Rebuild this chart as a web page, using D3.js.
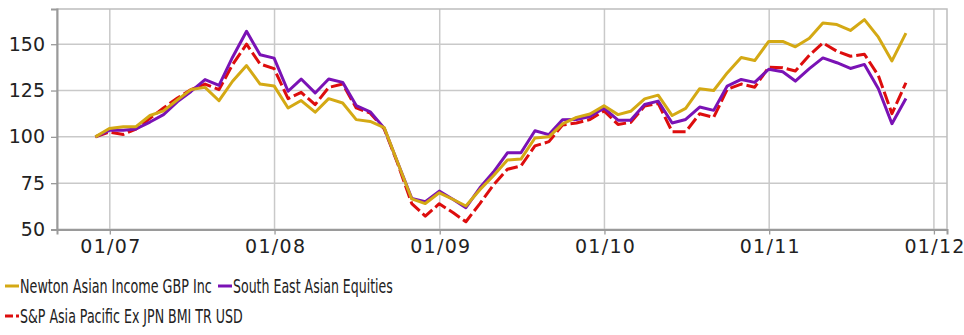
<!DOCTYPE html>
<html>
<head>
<meta charset="utf-8">
<script src="https://cdn.jsdelivr.net/npm/d3@7"></script>
<style>
  body { margin: 0; background: #fff; }
  svg { display: block; font-family: "DejaVu Sans", sans-serif; }
</style>
</head>
<body>
<div id="chart"></div>
<script>
// month-end dates of the series
const dates = [
  "2006-11-30","2006-12-31","2007-01-31","2007-02-28","2007-03-31","2007-04-30","2007-05-31","2007-06-30","2007-07-31","2007-08-31","2007-09-30","2007-10-31",
  "2007-11-30","2007-12-31","2008-01-31","2008-02-29","2008-03-31","2008-04-30","2008-05-31","2008-06-30","2008-07-31","2008-08-31","2008-09-30","2008-10-31",
  "2008-11-30","2008-12-31","2009-01-31","2009-02-28","2009-03-31","2009-04-30","2009-05-31","2009-06-30","2009-07-31","2009-08-31","2009-09-30","2009-10-31",
  "2009-11-30","2009-12-31","2010-01-31","2010-02-28","2010-03-31","2010-04-30","2010-05-31","2010-06-30","2010-07-31","2010-08-31","2010-09-30","2010-10-31",
  "2010-11-30","2010-12-31","2011-01-31","2011-02-28","2011-03-31","2011-04-30","2011-05-31","2011-06-30","2011-07-31","2011-08-31","2011-09-30","2011-10-31"
];

const newton = [
  100, 104.5, 105.5, 105.5, 111.5, 114, 120, 125.5, 126.7, 119.5, 130, 138.5,
  128.5, 127.5, 115.6, 119.6, 113.3, 120.6, 118.3, 109.3, 108.3, 105, 86, 66.5,
  64, 69.8, 66.2, 62.7, 71.5, 79, 87.5, 88, 99.4, 100, 107, 110.5,
  112.3, 116.8, 112, 113.8, 120.5, 122.5, 111.5, 115.4, 126, 125, 134.5, 142.8,
  141.2, 151.5, 151.5, 148.6, 153.2, 161.5, 160.6, 157.4, 163.3, 153.8, 141, 156
];

const seAsia = [
  100, 103.5, 103.6, 104.3, 108, 112, 119, 124.5, 130.9, 127.8, 143, 157,
  144.3, 142.5, 124.6, 131.2, 123.7, 131.2, 129.4, 116.9, 113.5, 104.7, 86, 66.8,
  65, 70.7, 66.2, 61.8, 72.5, 81, 91.4, 91.4, 103.3, 101.2, 109.2, 109.3,
  111, 115.5, 109, 109, 117.5, 119.3, 107.5, 109.4, 116.1, 114.3, 127.4, 131,
  129.4, 136.5, 135.1, 130.1, 136.8, 142.6, 140, 136.9, 139.1, 126, 107.1, 120.7
];

const spAsia = [
  100, 102.6, 101.3, 104.2, 110, 115.6, 121, 125.5, 128.5, 125.5, 139, 150,
  139.3, 136.8, 120.6, 124, 117.4, 126.7, 128.5, 115.6, 112.8, 104.3, 85.5, 64,
  57.2, 63.9, 59, 54.2, 64, 74, 82.5, 84.3, 95.1, 97.4, 106.4, 107.5,
  109.4, 114, 106.7, 107.8, 116.6, 118.1, 102.8, 102.7, 112.5, 110.5, 125.6, 128.5,
  126.8, 137.6, 137.3, 135.5, 144, 150.7, 146.2, 143.5, 144.6, 133, 112.5, 129.2
];

const seriesNames = ["Newton Asian Income GBP Inc", "South East Asian Equities", "S&P Asia Pacific Ex JPN BMI TR USD"];
const yTicks = [50, 75, 100, 125, 150];
const xTicks = ["2007-01-01","2008-01-01","2009-01-01","2010-01-01","2011-01-01","2012-01-01"];

const width = 964, height = 335;
const plot = {left: 57, right: 947, top: 9, bottom: 229.5};

const parse = d3.utcParse("%Y-%m-%d");

const svg = d3.select("#chart").append("svg")
  .attr("width", width)
  .attr("height", height);

const x = d3.scaleUtc()
  .domain([parse("2006-09-06"), parse("2012-01-30")])
  .range([plot.left, plot.right]);

const y = d3.scaleLinear()
  .domain([50, 169])
  .range([plot.bottom, plot.top]);

// grid lines
svg.append("g")
  .selectAll("line.h")
  .data(yTicks)
  .join("line")
  .attr("x1", plot.left).attr("x2", plot.right)
  .attr("y1", d => y(d)).attr("y2", d => y(d))
  .style("stroke", "#c9c9c9").style("stroke-width", 1.5);

svg.append("g")
  .selectAll("line.v")
  .data(xTicks)
  .join("line")
  .attr("x1", d => x(parse(d))).attr("x2", d => x(parse(d)))
  .attr("y1", plot.top).attr("y2", plot.bottom)
  .style("stroke", "#c9c9c9").style("stroke-width", 1.5);

// plot border
svg.append("rect")
  .attr("x", plot.left).attr("y", plot.top)
  .attr("width", plot.right - plot.left)
  .attr("height", plot.bottom - plot.top)
  .style("fill", "none")
  .style("stroke", "#bdbdbd")
  .style("stroke-width", 1.5);

// axes
const yAxis = svg.append("g")
  .attr("transform", `translate(${plot.left},0)`)
  .call(d3.axisLeft(y).tickValues(yTicks).tickSize(6).tickPadding(6));
const xAxis = svg.append("g")
  .attr("transform", `translate(0,${plot.bottom})`)
  .call(d3.axisBottom(x).tickValues(xTicks.map(parse)).tickFormat(d3.utcFormat("%m/%y")).tickSize(5).tickPadding(5));

[yAxis, xAxis].forEach(a => {
  a.select(".domain").style("stroke", "#9a9a9a").style("stroke-width", 2);
  a.selectAll(".tick line").style("stroke", "#9a9a9a").style("stroke-width", 1.3);
  a.selectAll("text")
    .style("font-family", "DejaVu Sans, sans-serif")
    .style("font-size", "19px")
    .style("fill", "#222");
});
xAxis.selectAll("text").attr("textLength", 60).attr("lengthAdjust", "spacing");

// lines
const line = d3.line()
  .x((d, i) => x(parse(dates[i])))
  .y(d => y(d));

const series = [
  {name: seriesNames[0], values: newton, color: "#d4a914", dash: null},
  {name: seriesNames[1], values: seAsia, color: "#7a12b5", dash: null},
  {name: seriesNames[2], values: spAsia, color: "#dd0d0d", dash: "13,4"}
];

// draw S&P first, then purple, then gold on top like the reference
[series[2], series[1], series[0]].forEach(s => {
  svg.append("path")
    .datum(s.values)
    .attr("d", line)
    .style("fill", "none")
    .style("stroke", s.color)
    .style("stroke-width", 3)
    .style("stroke-linejoin", "round")
    .style("stroke-dasharray", s.dash);
});

// legend - the reference uses a narrow font, so squeeze each label horizontally
const legendItems = [
  {s: series[0], x: 5, y: 293, w: 192},
  {s: series[1], x: 218, y: 293, w: 160},
  {s: series[2], x: 5, y: 323, w: 223}
];

const lg = svg.append("g");
legendItems.forEach(it => {
  lg.append("line")
    .attr("x1", it.x).attr("x2", it.x + 14)
    .attr("y1", it.y - 7).attr("y2", it.y - 7)
    .style("stroke", it.s.color)
    .style("stroke-width", 3)
    .style("stroke-dasharray", it.s.dash ? "8,3,3,3" : null);
  const t = lg.append("text")
    .attr("x", 0)
    .attr("y", 0)
    .style("font-size", "19px")
    .style("fill", "#222")
    .text(it.s.name);
  const k = it.w / t.node().getComputedTextLength();
  t.attr("transform", `translate(${it.x + 15},${it.y}) scale(${k},1)`);
});
</script>
</body>
</html>
